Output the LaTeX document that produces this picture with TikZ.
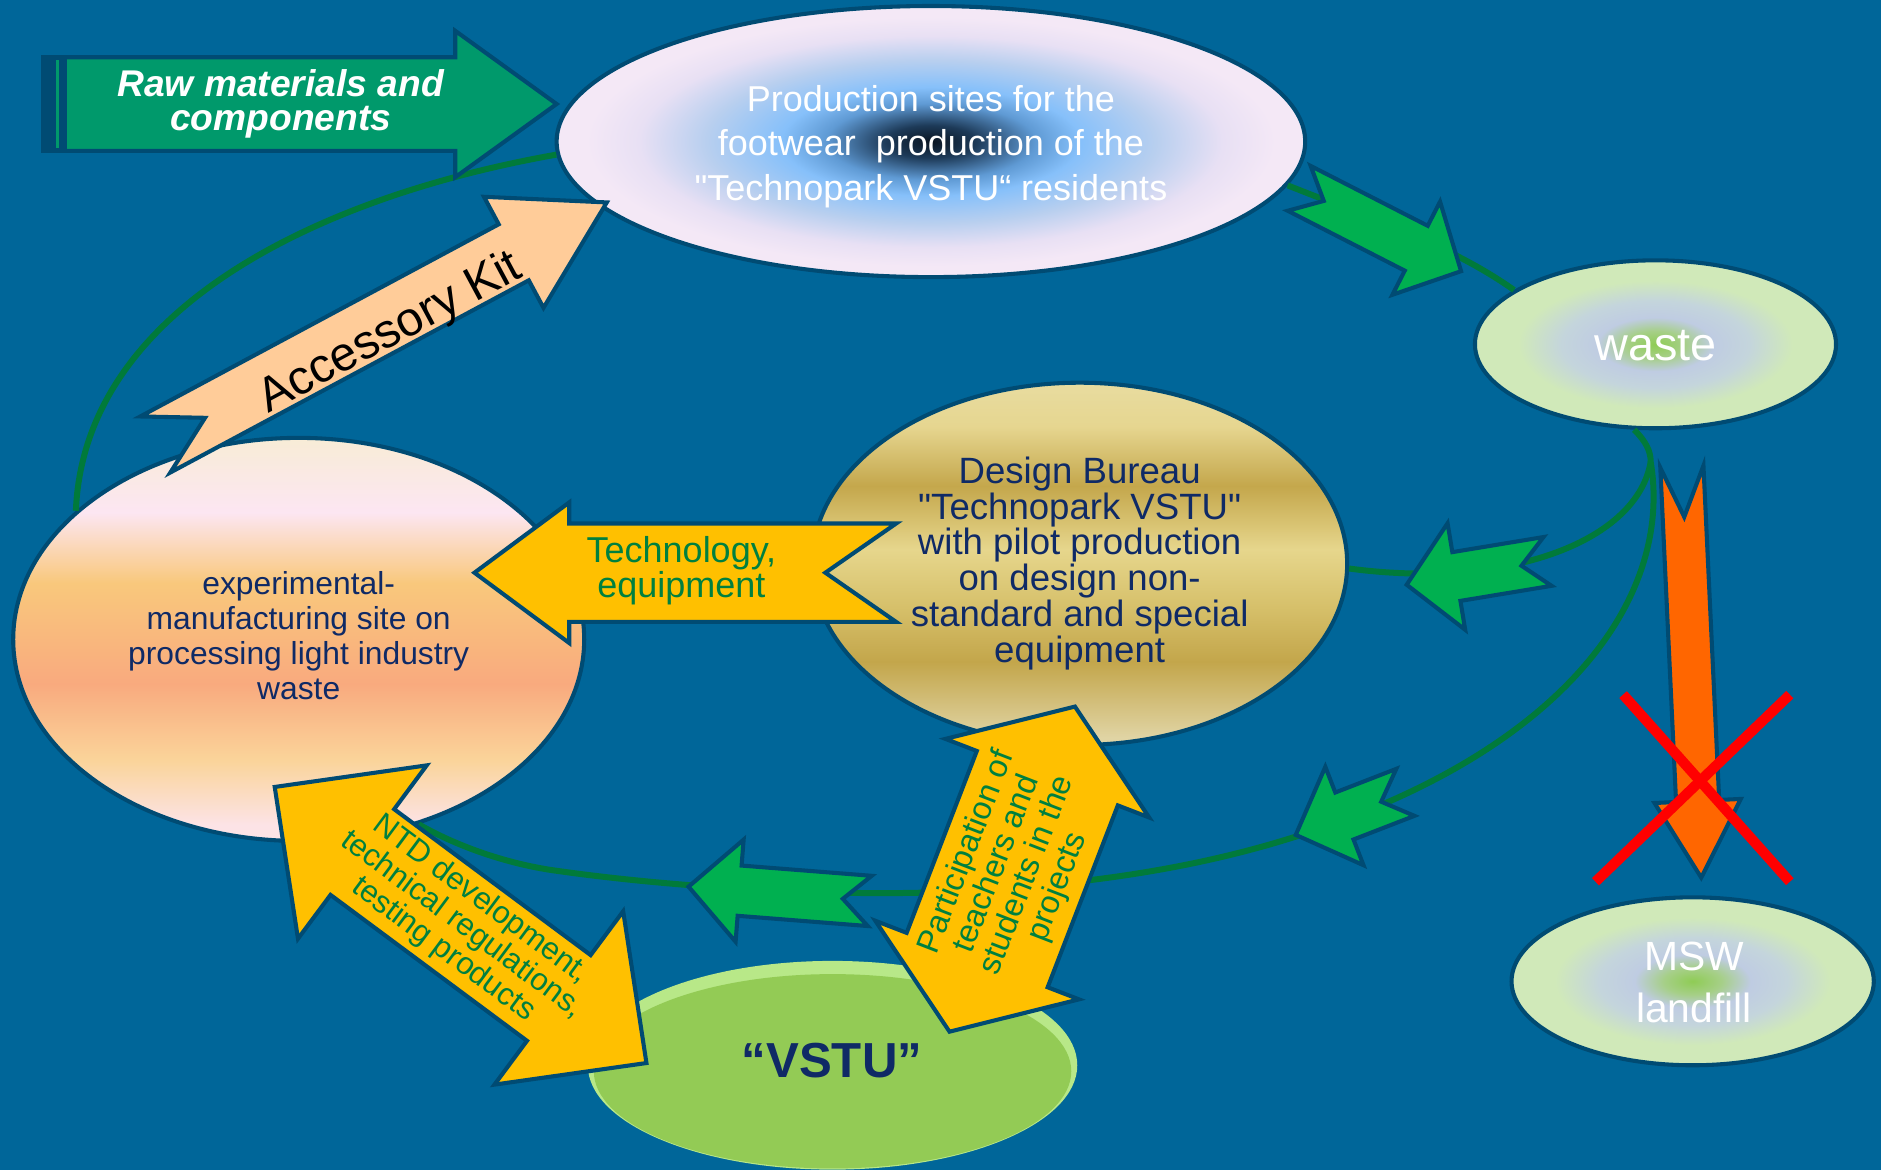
\documentclass[tikz,border=0pt]{standalone}
\usepackage{fontspec}
\setmainfont{Liberation Sans}
\newfontfamily\qfont{Liberation Sans}
\usetikzlibrary{shapes.geometric}
\definecolor{bgc}{HTML}{006699}
\definecolor{bordc}{HTML}{004B73}
\definecolor{linec}{HTML}{007A3A}
\definecolor{garrow}{HTML}{00B050}
\definecolor{yarrow}{HTML}{FFC000}
\definecolor{gtext}{HTML}{00803F}
\definecolor{peach}{HTML}{FFCC99}
\definecolor{orng}{HTML}{FF6600}
\definecolor{navy}{HTML}{0F2A66}
\definecolor{rawg}{HTML}{00996B}
\definecolor{vstuL}{HTML}{B8E888}
\definecolor{vstuM}{HTML}{93CB55}
% production shading
\definecolor{pA}{HTML}{0A1522}
\definecolor{pB}{HTML}{1D3A58}
\definecolor{pC}{HTML}{5F9AD4}
\definecolor{pD}{HTML}{86C0FA}
\definecolor{pE}{HTML}{B8CFEF}
\definecolor{pF}{HTML}{E8E0F4}
\definecolor{pG}{HTML}{F4E8F6}
\pgfdeclareradialshading{prodshade}{\pgfpoint{0bp}{0bp}}{color(0bp)=(pA); color(3bp)=(pB); color(7bp)=(pC); color(10bp)=(pD); color(15bp)=(pE); color(19.5bp)=(pF); color(23bp)=(pG); color(50bp)=(pG)}
% waste / landfill shading
\definecolor{wA}{HTML}{8FCC55}
\definecolor{wB}{HTML}{A6CF88}
\definecolor{wC}{HTML}{BFCCE2}
\definecolor{wD}{HTML}{C4D5DC}
\definecolor{wE}{HTML}{D0E9B9}
\pgfdeclareradialshading{wasteshade}{\pgfpoint{0bp}{0bp}}{color(0bp)=(wA); color(4bp)=(wB); color(8bp)=(wC); color(13bp)=(wD); color(19bp)=(wE); color(50bp)=(wE)}
% experimental shading
\definecolor{eA}{HTML}{F8ECD6}
\definecolor{eB}{HTML}{FCE6F2}
\definecolor{eC}{HTML}{F9C87C}
\definecolor{eD}{HTML}{F9AA7E}
\definecolor{eE}{HTML}{FAD49A}
\definecolor{eF}{HTML}{FCE3E6}
\pgfdeclareverticalshading{expshade}{100bp}{color(0bp)=(eF); color(27bp)=(eF); color(35bp)=(eE); color(44.5bp)=(eD); color(57bp)=(eC); color(65.75bp)=(eB); color(75bp)=(eA); color(100bp)=(eA)}
% bureau shading
\definecolor{gA}{HTML}{E8DCA0}
\definecolor{gB}{HTML}{E6D690}
\definecolor{gC}{HTML}{C4A74C}
\definecolor{gD}{HTML}{E6D68C}
\definecolor{gE}{HTML}{D6C06A}
\definecolor{gF}{HTML}{C3A64B}
\definecolor{gG}{HTML}{E0D4A4}
\pgfdeclareverticalshading{burshade}{100bp}{color(0bp)=(gG); color(26bp)=(gG); color(36.5bp)=(gF); color(44bp)=(gE); color(52bp)=(gD); color(60.75bp)=(gC); color(69bp)=(gB); color(75bp)=(gA); color(100bp)=(gA)}

% notched block arrow: style, x, y, angle, L, w, h, hl, notch
\newcommand{\notcharrow}[9]{%
  \draw[#1,shift={(#2,#3)},rotate=#4] (0,#6) -- ({#5-#8},#6) -- ({#5-#8},#7) -- (#5,0) -- ({#5-#8},-#7) -- ({#5-#8},-#6) -- (0,-#6) -- (#9,0) -- cycle;}
% double block arrow: style, x, y, angle, L, w, h, hl
\newcommand{\dblarrow}[8]{%
  \draw[#1,shift={(#2,#3)},rotate=#4] (0,0) -- (#8,#7) -- (#8,#6) -- ({#5-#8},#6) -- ({#5-#8},#7) -- (#5,0) -- ({#5-#8},-#7) -- ({#5-#8},-#6) -- (#8,-#6) -- (#8,-#7) -- cycle;}
\newcommand{\sq}{{\qfont"}}

\tikzset{
  oval/.style={ellipse, draw=bordc, line width=3.4, inner sep=0pt},
  conn/.style={draw=linec, line width=5},
  arr/.style={draw=bordc, line width=3.4, line join=miter},
}

\begin{document}
\begin{tikzpicture}[x=1pt,y=-1pt]
\useasboundingbox (0,0) rectangle (1568,975);
\fill[bgc] (0,0) rectangle (1568,975);

% ellipses
\node[oval, shading=prodshade, minimum width=624, minimum height=226] (prod) at (776,118) {};
\node[oval, shading=wasteshade, minimum width=301, minimum height=140] (waste) at (1380,287) {};
\node[oval, shading=expshade, minimum width=476, minimum height=336] (exp) at (249,533) {};
\node[oval, shading=burshade, minimum width=446, minimum height=302] (bureau) at (900,470) {};
\node[ellipse, fill=vstuL, inner sep=0pt, minimum width=408, minimum height=174] (vstu) at (694,888) {};
\node[ellipse, fill=vstuM, inner sep=0pt, minimum width=398, minimum height=162] (vstuin) at (694,893) {};
\node[oval, shading=wasteshade, minimum width=302, minimum height=140] (msw) at (1411,818) {};

% connector lines
\coordinate (split) at (1376,385);
\draw[conn] (prod.182) .. controls (260,165) and (70,260) .. (exp.150.7);
\draw[conn] (prod.-7.4) .. controls (1150,185) and (1210,205) .. (waste.159);
\draw[conn] (waste.256) .. controls (1372,368) and (1376,376) .. (split);
\draw[conn] (split) .. controls (1365,450) and (1260,492) .. (bureau.-1);
\draw[conn] (split) .. controls (1392,480) and (1330,590) .. (1165,665) .. controls (1060,712) and (950,735) .. (800,743) .. controls (700,748) and (560,740) .. (458,725) .. controls (420,719) and (380,705) .. (exp.-57);

% raw materials arrow (striped)
\fill[bordc] (34.4,46) rectangle (56,127.5);
\fill[rawg] (46.3,50) rectangle (49.4,123.5);
\notcharrow{arr,fill=rawg}{54}{86.7}{0}{410}{39}{61}{84.5}{0}

% block arrows
\notcharrow{arr,fill=peach}{129.5}{370.5}{28.2}{427}{26.5}{52.5}{88}{47}
\notcharrow{arr,fill=yarrow}{747}{477.4}{180}{351.5}{41}{58.6}{79}{59}
\notcharrow{arr,fill=garrow}{1083}{157}{-27.1}{151.6}{21}{43.6}{42}{23}
\notcharrow{arr,fill=garrow}{1290}{468}{189.4}{119}{20.6}{45}{42}{22}
\notcharrow{arr,fill=garrow}{1171.5}{660.5}{201.2}{98}{21}{44}{43.5}{21.6}
\notcharrow{arr,fill=garrow}{725}{751}{175.5}{151.5}{21}{42.7}{42.7}{22.5}
\notcharrow{arr,fill=orng}{1402}{389}{-87.3}{343}{18}{36}{64}{42}
\dblarrow{arr,fill=yarrow}{229}{656}{-36.6}{386}{44.5}{90}{91}
\dblarrow{arr,fill=yarrow}{791.5}{860}{68.9}{290.5}{63}{91}{64}

% texts
\node[text=white, align=center, font={\fontsize{31}{28}\selectfont\bfseries\itshape}] (rawtxt) at (234,86.8) {Raw materials and\\components};
\node[text=white, align=center, font={\fontsize{30}{37}\selectfont}] (prodtxt) at (776,122) {Production sites for the\\footwear\ \ production of the\\\sq Technopark VSTU“ residents};
\node[text=white, font={\fontsize{39}{44}\selectfont}] (wastetxt) at (1380,288) {waste};
\node[text=navy, align=center, font={\fontsize{26.5}{29}\selectfont}] (exptxt) at (249,530) {experimental-\\manufacturing site on\\processing light industry\\waste};
\node[text=navy, align=center, font={\fontsize{30.5}{29.8}\selectfont}] (burtxt) at (900,469.6) {Design Bureau\\\sq Technopark VSTU\sq\\with pilot production\\on design non-\\standard and special\\equipment};
\node[text=navy, font={\fontsize{41}{42}\selectfont\bfseries}] (vstutxt) at (693.5,884) {“VSTU”};
\node[text=white, align=center, font={\fontsize{34}{44}\selectfont}] (msswtxt) at (1412,819) {MSW\\landfill};
\node[text=gtext, align=center, font={\fontsize{30}{29}\selectfont}] (techtxt) at (568,476) {Technology,\\equipment};
\node[text=black, rotate=28.2, font={\fontsize{40}{44}\selectfont}] (acctxt) at (325.6,278.1) {Accessory Kit};
\node[text=gtext, align=center, rotate=-36.6, font={\fontsize{26}{26}\selectfont}] (ntdtxt) at (385,771) {NTD development,\\technical regulations,\\testing products};
\node[text=gtext, align=center, rotate=68.9, font={\fontsize{27}{27}\selectfont}] (parttxt) at (844,725) {Participation of\\teachers and\\students in the\\projects};

% red cross
\draw[red, line width=8.5] (1353,579) -- (1492,735);
\draw[red, line width=8.5] (1492,579) -- (1330,735);
\end{tikzpicture}
\end{document}
